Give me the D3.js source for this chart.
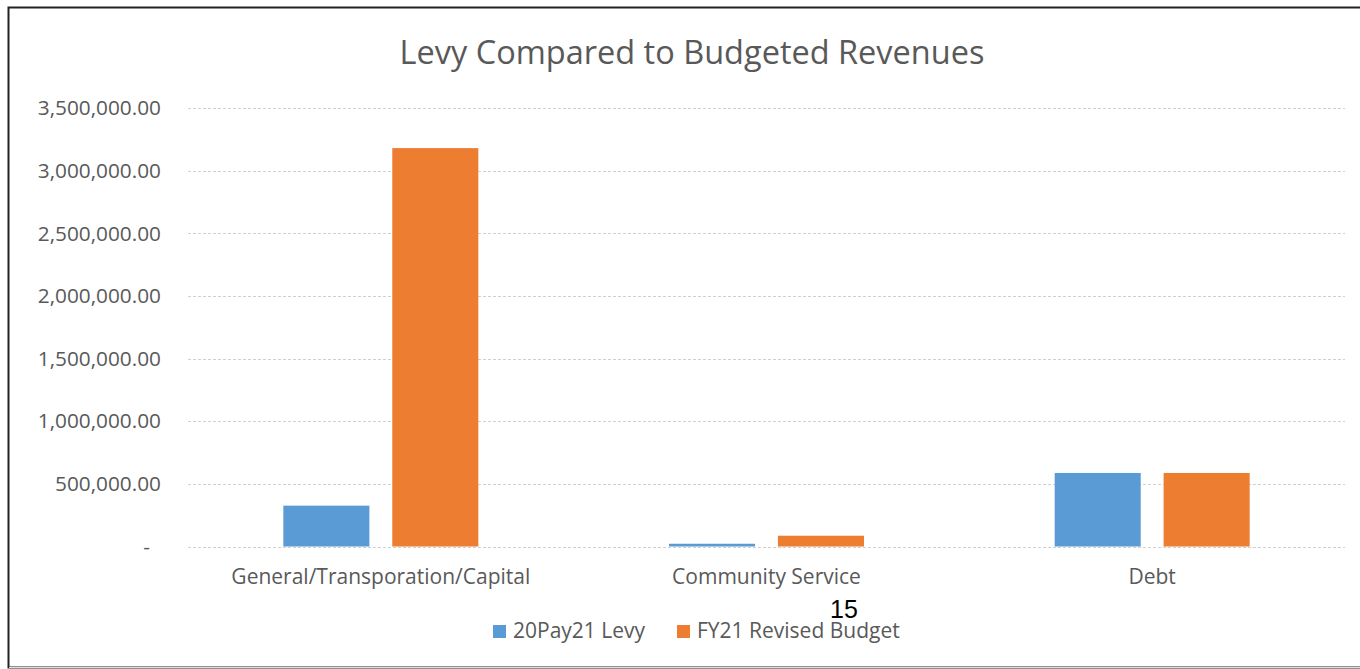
<!DOCTYPE html>
<html>
<head>
<meta charset="utf-8">
<script src="https://cdn.jsdelivr.net/npm/d3@7"></script>
<style>
  body { margin: 0; background: #fff; }
  svg text { font-family: "Open Sans", sans-serif; fill: #595959; }
</style>
</head>
<body>
<svg id="chart" width="1360" height="669"></svg>
<script>
// chart data
var categories = ["General/Transporation/Capital", "Community Service", "Debt"];
var seriesNames = ["20Pay21 Levy", "FY21 Revised Budget"];
var levy = [326000, 22000, 587000];
var budget = [3180000, 86000, 587000];
var yTicks = [0, 500000, 1000000, 1500000, 2000000, 2500000, 3000000, 3500000];
var colors = ["#5B9BD5", "#ED7D31"];

var svg = d3.select("#chart");

// outer frame (screenshot border)
svg.append("rect")
  .attr("x", 8.5).attr("y", 7.5)
  .attr("width", 1360).attr("height", 660)
  .attr("fill", "none")
  .attr("stroke", "#222")
  .attr("stroke-width", 2);
svg.append("line")
  .attr("x1", 9).attr("x2", 1360)
  .attr("y1", 667.5).attr("y2", 667.5)
  .style("stroke", "#ddd");

var plotLeft = 188, plotRight = 1345, plotTop = 108, plotBottom = 546.5;

var x0 = d3.scaleBand()
  .domain(categories)
  .range([plotLeft, plotRight]);

var x1 = d3.scaleBand()
  .domain([0, 1])
  .range([x0.bandwidth() / 2 - 97.5, x0.bandwidth() / 2 + 97.5])
  .paddingInner(0.21);

var y = d3.scaleLinear()
  .domain([0, 3500000])
  .range([plotBottom, plotTop]);

// gridlines
svg.append("g")
  .selectAll("line")
  .data(yTicks)
  .enter()
  .append("line")
  .attr("x1", plotLeft)
  .attr("x2", plotRight)
  .attr("y1", function(d) { return Math.round(y(d)) + 0.5; })
  .attr("y2", function(d) { return Math.round(y(d)) + 0.5; })
  .style("stroke", "#d0d0d0")
  .style("stroke-width", 1)
  .style("stroke-dasharray", "3,2");

// y axis labels (accounting style: zero shown as a dash)
var fmt = d3.format(",.2f");
svg.append("g")
  .selectAll("text")
  .data(yTicks)
  .enter()
  .append("text")
  .attr("x", 161)
  .attr("y", function(d) { return y(d); })
  .attr("dx", function(d) { return d === 0 ? -11 : 0; })
  .attr("dy", "0.35em")
  .attr("text-anchor", "end")
  .style("font-size", "20.8px")
  .text(function(d) { return d === 0 ? "-" : fmt(d); });

// bars
var rows = categories.map(function(c, i) {
  return { cat: c, values: [levy[i], budget[i]] };
});

var groups = svg.append("g")
  .selectAll("g")
  .data(rows)
  .enter()
  .append("g")
  .attr("transform", function(d) { return "translate(" + x0(d.cat) + ",0)"; });

groups.selectAll("rect")
  .data(function(d) { return d.values; })
  .enter()
  .append("rect")
  .attr("x", function(d, i) { return x1(i); })
  .attr("width", x1.bandwidth())
  .attr("y", function(d) { return y(d); })
  .attr("height", function(d) { return y(0) - y(d); })
  .attr("fill", function(d, i) { return colors[i]; });

// category labels
svg.append("g")
  .selectAll("text")
  .data(categories)
  .enter()
  .append("text")
  .attr("x", function(d) { return x0(d) + x0.bandwidth() / 2; })
  .attr("y", 577)
  .attr("dy", "0.35em")
  .attr("text-anchor", "middle")
  .style("font-size", "21px")
  .text(function(d) { return d; });

// title
svg.append("text")
  .attr("x", 692)
  .attr("y", 53)
  .attr("dy", "0.35em")
  .attr("text-anchor", "middle")
  .style("font-size", "32.5px")
  .text("Levy Compared to Budgeted Revenues");

// legend
var legendX = [493, 677];
var legend = svg.append("g")
  .selectAll("g")
  .data(seriesNames)
  .enter()
  .append("g")
  .attr("transform", function(d, i) { return "translate(" + legendX[i] + ",625)"; });
legend.append("rect")
  .attr("width", 13).attr("height", 13)
  .attr("fill", function(d, i) { return colors[i]; });
legend.append("text")
  .attr("x", 20)
  .attr("y", 6)
  .attr("dy", "0.35em")
  .style("font-size", "21px")
  .text(function(d) { return d; });

// page number
svg.append("text")
  .attr("x", 844)
  .attr("y", 618)
  .attr("text-anchor", "middle")
  .style("font-family", "'Liberation Sans', Arial, sans-serif")
  .style("font-size", "25px")
  .style("fill", "#000")
  .text("15");
</script>
</body>
</html>
